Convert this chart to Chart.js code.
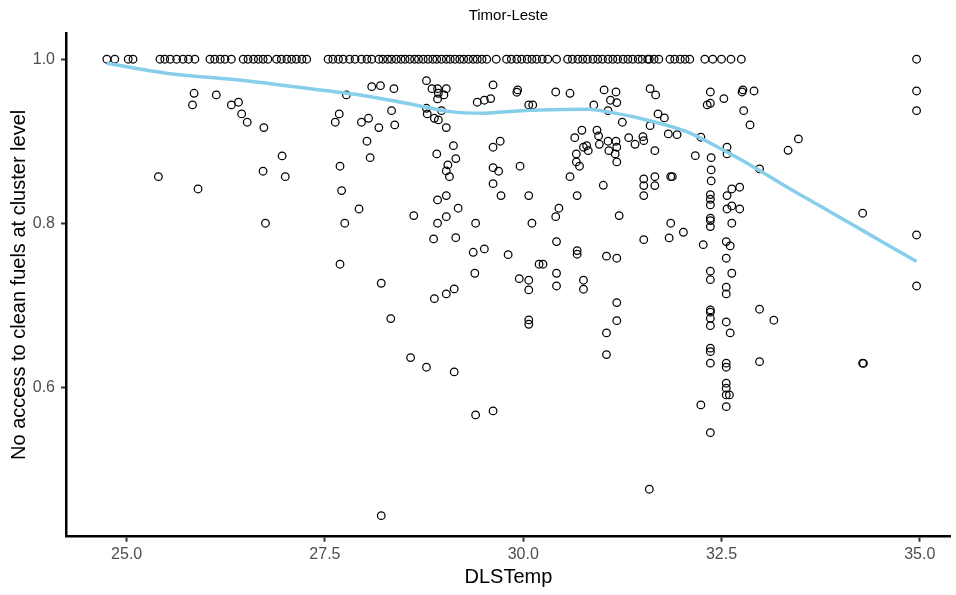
<!DOCTYPE html>
<html><head><meta charset="utf-8">
<script src="https://cdn.jsdelivr.net/npm/chart.js@4"></script>
<style>html,body{margin:0;padding:0;background:#fff}</style>
</head><body>
<canvas id="c" width="956" height="595"></canvas>
<script>
// Clusters with full value 1.0 (x = DLSTemp)
const fullAccessTemps = [24.75,24.85,25.02,25.08,25.42,25.48,25.55,25.63,25.71,25.78,25.86,26.05,26.11,26.18,26.24,26.32,26.47,26.53,26.60,26.66,26.72,26.78,26.89,26.95,27.02,27.08,27.14,27.21,27.27,27.54,27.60,27.67,27.73,27.81,27.88,27.96,28.03,28.09,28.18,28.23,28.29,28.34,28.40,28.46,28.51,28.57,28.63,28.68,28.74,28.80,28.86,28.91,28.97,29.03,29.08,29.14,29.20,29.25,29.31,29.37,29.42,29.48,29.54,29.66,29.79,29.85,29.92,29.98,30.05,30.11,30.17,30.24,30.31,30.42,30.56,30.62,30.69,30.75,30.81,30.88,30.94,31.00,31.07,31.13,31.19,31.26,31.32,31.38,31.45,31.50,31.57,31.59,31.65,31.71,31.85,31.91,31.98,32.04,32.10,32.29,32.39,32.50,32.62,32.75,34.96];
const fullAccessValue = 1.0;

// Other clusters
const partialTemps = [25.85,25.83,26.13,26.32,26.41,26.45,26.52,26.73,25.40,25.90,26.72,26.96,27.00,26.75,27.77,27.68,27.63,27.69,27.71,27.75,27.93,27.96,27.69,
28.09,28.20,28.37,28.78,28.85,28.92,29.03,28.93,29.00,28.92,28.34,28.78,28.79,28.97,28.88,28.93,29.03,28.05,28.18,28.38,28.03,28.07,28.91,29.12,29.15,29.05,29.03,29.07,28.92,29.03,29.18,29.03,28.92,28.62,29.40,
29.62,29.42,29.51,29.59,29.62,29.71,29.62,29.69,29.62,29.72,29.96,30.07,30.11,29.93,29.92,30.07,30.12,30.41,30.59,30.45,30.41,30.59,30.68,30.89,31.02,31.17,31.10,31.18,31.07,31.25,30.74,30.65,30.93,30.95,30.96,31.07,31.17,30.80,30.76,30.82,31.08,31.18,31.16,31.18,30.67,30.67,30.71,31.33,31.41,31.01,31.21,
31.60,31.67,32.36,32.53,32.32,32.36,32.77,32.76,32.91,32.78,32.86,34.96,34.96,31.70,31.78,31.60,31.51,31.52,31.83,31.94,31.66,32.24,32.17,32.37,32.57,32.57,32.98,33.34,33.47,34.28,32.37,32.37,31.52,31.52,31.52,31.66,31.66,31.86,31.88,32.36,32.36,32.36,32.36,32.36,32.57,32.63,32.73,32.63,32.57,32.73,32.63,31.86,32.02,
34.96,34.96,31.52,31.84,32.27,32.36,32.56,32.61,32.56,32.63,32.36,32.36,32.56,32.56,32.98,33.16,32.36,32.36,32.36,32.36,32.56,32.61,32.36,32.36,32.36,32.56,32.56,32.98,34.28,34.29,32.56,32.56,32.60,32.56,32.56,32.24,32.36,31.59,
28.87,29.15,29.37,29.51,29.81,29.39,28.21,28.33,28.88,29.03,29.13,28.58,28.78,29.13,30.42,29.95,30.07,30.07,30.20,30.25,30.42,30.42,30.68,30.68,30.76,30.76,30.07,30.07,31.05,31.18,31.18,31.18,31.05,31.05,28.21,29.40,29.62];
const partialAccess = [0.9585,0.9443,0.9565,0.9443,0.9476,0.9333,0.9232,0.9166,0.8568,0.8418,0.8634,0.8821,0.8568,0.8000,0.9565,0.9333,0.9232,0.8695,0.8398,0.8000,0.8174,0.9232,0.7500,
0.9666,0.9678,0.9641,0.9739,0.9641,0.9641,0.9641,0.9585,0.9565,0.9516,0.9373,0.9402,0.9333,0.9373,0.9280,0.9260,0.9166,0.9280,0.9166,0.9199,0.9000,0.8800,0.8845,0.8946,0.8788,0.8711,0.8638,0.8568,0.8284,0.8337,0.8183,0.8080,0.8000,0.8093,0.8000,
0.9687,0.9476,0.9500,0.9520,0.8927,0.9000,0.8678,0.8634,0.8483,0.8337,0.8695,0.8337,0.8000,0.9626,0.9598,0.9443,0.9443,0.9601,0.9585,0.8183,0.8080,0.8568,0.8337,0.9443,0.9626,0.9601,0.9500,0.9471,0.9373,0.9232,0.9134,0.9044,0.9134,0.9065,0.8963,0.9000,0.9000,0.8946,0.8927,0.8885,0.8885,0.8927,0.8845,0.8748,0.8845,0.8748,0.8695,0.9044,0.8963,0.8463,0.8093,
0.9641,0.9565,0.9601,0.9520,0.9443,0.9463,0.9626,0.9601,0.9613,0.9373,0.9199,0.9613,0.9373,0.9333,0.9284,0.9190,0.9056,0.9007,0.9089,0.9080,0.8885,0.9049,0.8824,0.8800,0.8927,0.8845,0.8662,0.8890,0.9028,0.8122,0.8650,0.8516,0.8540,0.8459,0.8337,0.8568,0.8459,0.8568,0.8568,0.8349,0.8293,0.8223,0.8061,0.7959,0.8337,0.8418,0.8439,0.8211,0.8174,0.8174,0.8000,0.8000,0.7890,
0.7857,0.7235,0.7800,0.7821,0.7739,0.8032,0.7776,0.7723,0.7573,0.7390,0.7415,0.7312,0.7220,0.7138,0.6951,0.6817,0.6943,0.6915,0.6841,0.6751,0.6796,0.6662,0.6476,0.6434,0.6293,0.6293,0.6244,0.6312,0.6293,0.6290,0.6049,0.5988,0.5906,0.5906,0.5763,0.5784,0.5446,0.4756,
0.7809,0.7824,0.7646,0.7687,0.7617,0.7390,0.7268,0.6837,0.7080,0.7138,0.7199,0.6361,0.6244,0.6187,0.7776,0.7324,0.7305,0.7187,0.7500,0.7500,0.7390,0.7235,0.7666,0.7622,0.7305,0.7195,0.6821,0.6768,0.7598,0.7573,0.7032,0.6812,0.6662,0.6398,0.4434,0.5662,0.5711];

// Smoothed trend (loess)
const smoothTemps  = [24.75,25.5,26.5,27.5,27.94,28.53,29.08,29.50,29.79,30.21,30.84,31.05,31.47,32.06,32.48,32.90,33.32,33.74,34.16,34.58,34.96];
const smoothAccess = [0.995,0.983,0.9738,0.9618,0.9565,0.9463,0.9361,0.9341,0.9361,0.9382,0.939,0.9361,0.928,0.9117,0.8915,0.869,0.8446,0.8212,0.7978,0.7744,0.7532];

const xTicks = [25.0, 27.5, 30.0, 32.5, 35.0];
const yTicks = [0.6, 0.8, 1.0];

const chartTitle = 'Timor-Leste';
const xTitle = 'DLSTemp';
const yTitle = 'No access to clean fuels at cluster level';

const points = fullAccessTemps.map(x => ({x, y: fullAccessValue}))
  .concat(partialTemps.map((x, i) => ({x, y: partialAccess[i]})));
const smooth = smoothTemps.map((x, i) => ({x, y: smoothAccess[i]}));

const FONT = "'Liberation Sans', Arial, sans-serif";

new Chart(document.getElementById('c'), {
  type: 'scatter',
  data: {
    datasets: [
      {type: 'line', data: smooth, borderColor: '#87CEEB', borderWidth: 3.5, pointRadius: 0,
       fill: false, cubicInterpolationMode: 'monotone', order: 0},
      {data: points, pointStyle: 'circle', pointRadius: 3.8, borderColor: '#000', borderWidth: 1.25,
       backgroundColor: 'rgba(0,0,0,0)', order: 1}
    ]
  },
  options: {
    responsive: false, animation: false, devicePixelRatio: 1,
    layout: {padding: {left: 0, right: 5, top: 0, bottom: 0}},
    plugins: {
      legend: {display: false},
      tooltip: {enabled: false},
      title: {display: true, text: chartTitle, fullSize: false, color: '#000',
              font: {family: FONT, size: 15, weight: 'normal'}, padding: {top: 7, bottom: 8}}
    },
    scales: {
      x: {
        type: 'linear', min: 24.235, max: 35.391,
        afterFit: s => { s.height = 58.3; },
        afterBuildTicks: s => { s.ticks = xTicks.map(v => ({value: v})); },
        ticks: {color: '#4D4D4D', font: {family: FONT, size: 16}, padding: 3,
                callback: v => Number(v).toFixed(1)},
        grid: {display: true, drawOnChartArea: false, drawTicks: true, tickLength: 5, tickWidth: 2, tickColor: '#333'},
        border: {display: true, color: '#000', width: 2.5},
        title: {display: true, text: xTitle, color: '#000', font: {family: FONT, size: 20}, padding: {top: 0, bottom: 6}}
      },
      y: {
        type: 'linear', min: 0.4177, max: 1.032,
        afterFit: s => { s.width = 66; },
        afterBuildTicks: s => { s.ticks = yTicks.map(v => ({value: v})); },
        ticks: {color: '#4D4D4D', font: {family: FONT, size: 16}, padding: 6,
                callback: v => Number(v).toFixed(1)},
        grid: {display: true, drawOnChartArea: false, drawTicks: true, tickLength: 5, tickWidth: 2, tickColor: '#333'},
        border: {display: true, color: '#000', width: 2.5},
        title: {display: true, text: yTitle, color: '#000', font: {family: FONT, size: 20}, padding: {top: 7, bottom: 0}}
      }
    }
  }
});
</script>
</body></html>
